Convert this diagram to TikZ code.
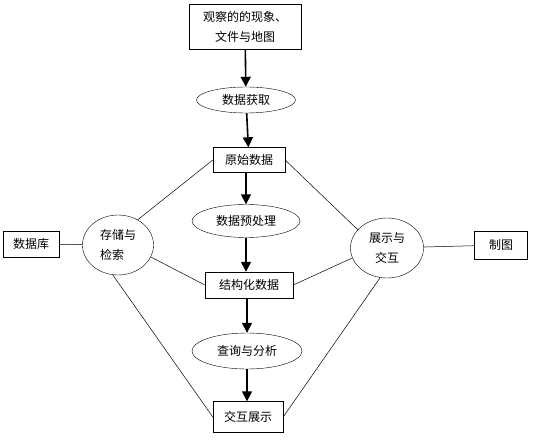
\documentclass[tikz,border=0pt]{standalone}
\usepackage{fontspec}
\setmainfont{Noto Sans CJK SC}
\usetikzlibrary{arrows.meta,shapes.geometric}

\begin{document}
\begin{tikzpicture}[x=1pt,y=-1pt,
        font=\fontsize{12}{20}\selectfont,
        box/.style={draw,rectangle,inner sep=0pt,align=center},
        oval/.style={draw,ellipse,inner sep=0pt},
        flow/.style={line width=1.6pt,-{Triangle[width=10pt,length=10pt]}},
        link/.style={line width=0.5pt}]

    \useasboundingbox (0,0) rectangle (540,446);

    % main column
    \node[box,minimum width=112pt,minimum height=45pt] (obs)  at (245,27)  {观察的的现象、\\文件与地图};
    \node[oval,minimum width=99pt,minimum height=26pt] (get)  at (246,100) {数据获取};
    \node[box,minimum width=72pt,minimum height=25pt]  (raw)  at (249,160) {原始数据};
    \node[oval,minimum width=108pt,minimum height=33pt] (pre) at (246,221) {数据预处理};
    \node[box,minimum width=88pt,minimum height=26pt]  (str)  at (249,285) {结构化数据};
    \node[oval,minimum width=110pt,minimum height=36pt] (ana) at (247,351) {查询与分析};
    \node[box,minimum width=70pt,minimum height=31pt]  (show) at (248,417) {交互展示};

    % side parts
    \node[oval,minimum width=71pt,minimum height=60pt,align=left] (store) at (118,245) {存储与\\检索};
    \node[box,minimum width=56pt,minimum height=26pt]  (db)   at (31,244)  {数据库};
    \node[oval,minimum width=73pt,minimum height=60pt,align=center] (disp) at (387,248) {展示与\\交互};
    \node[box,minimum width=53pt,minimum height=28pt]  (map)  at (501,245) {制图};

    \draw[flow] (obs) -- (get);
    \draw[flow] (get) -- (raw);
    \draw[flow] (raw.south -| pre) -- (pre);
    \draw[flow] (pre) -- (pre |- str.north);
    \draw[flow] (str.south -| ana) -- (ana);
    \draw[flow] (ana) -- (ana |- show.north);

    \draw[link] (db) -- (store);
    \draw[link] (disp) -- (map);
    \draw[link] (store.52) -- (raw.west);
    \draw[link] (store.-20) -- (str.west);
    \draw[link] (store.-100) -- (show.west);
    \draw[link] (disp.148) -- (raw.east);
    \draw[link] (disp.196) -- (str.east);
    \draw[link] (disp.-103) -- (show.east);
\end{tikzpicture}
\end{document}
